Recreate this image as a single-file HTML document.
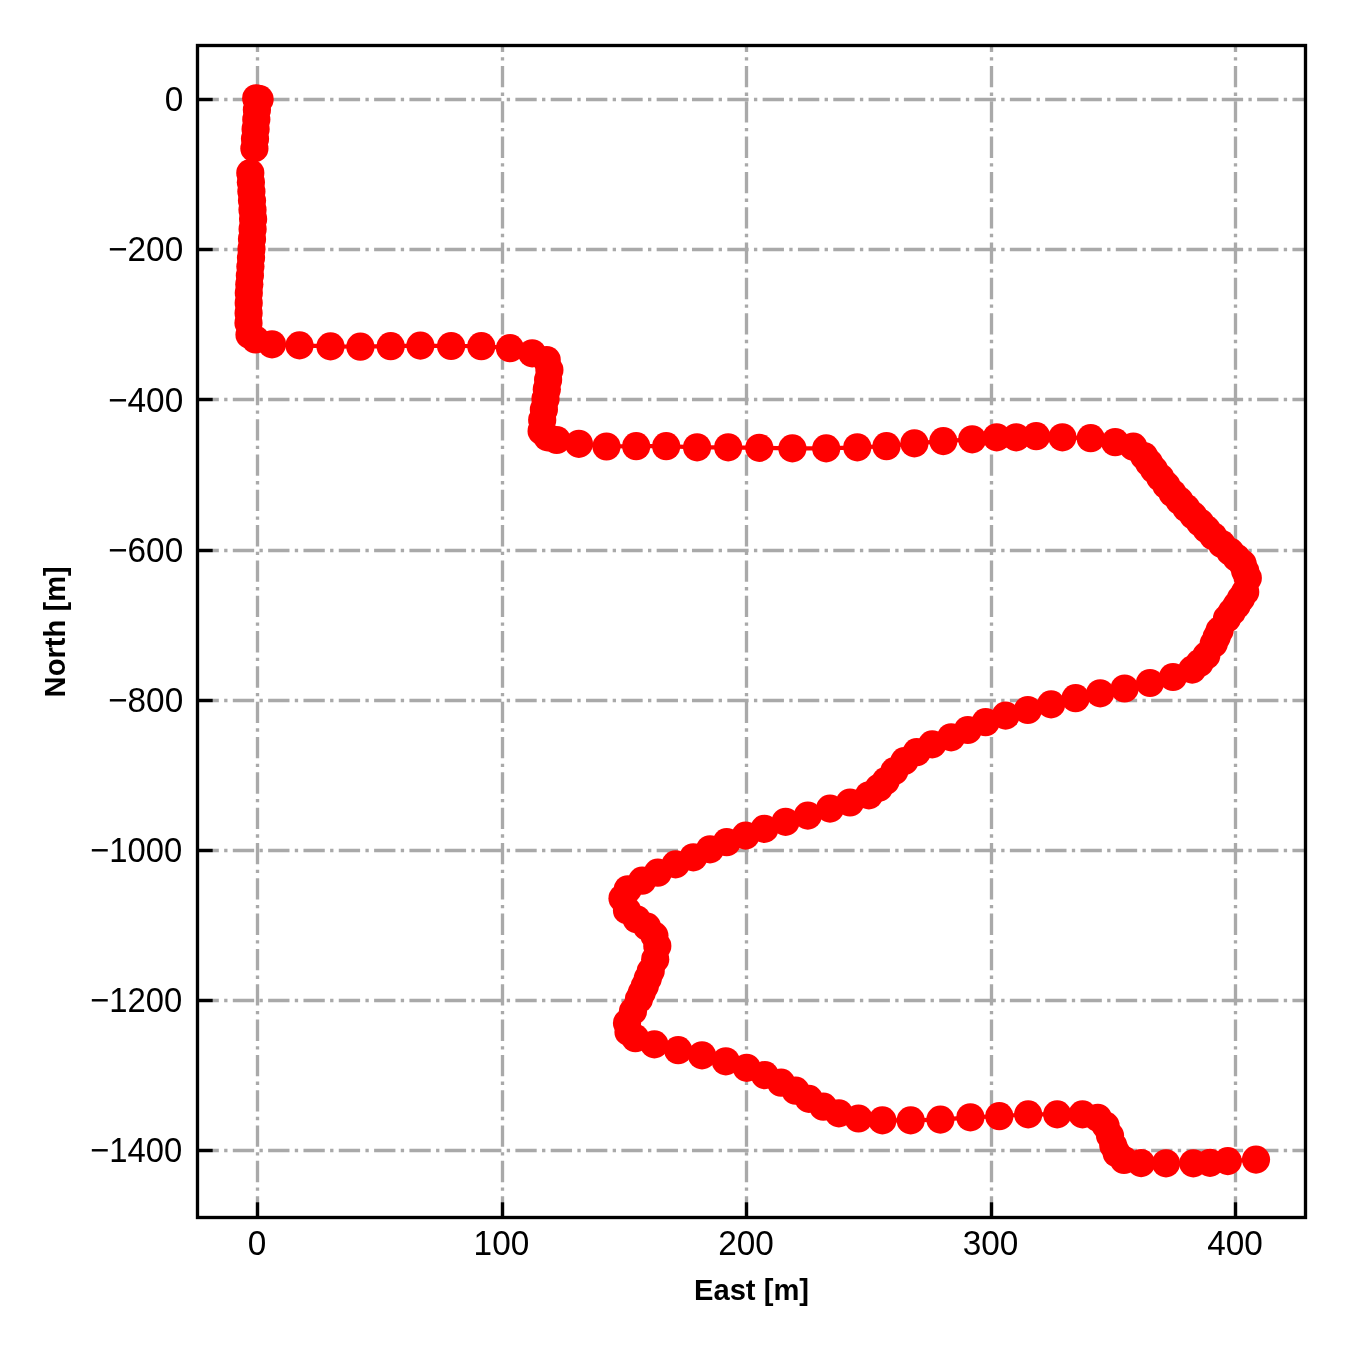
<!DOCTYPE html>
<html lang="en"><head><meta charset="utf-8"><title>Trajectory</title>
<style>
html,body{margin:0;padding:0;background:#fff}
body{width:1350px;height:1350px;overflow:hidden}
svg{display:block}
.tk{font-family:"Liberation Sans",sans-serif;font-size:33.33px;fill:#000}
.lb{font-family:"Liberation Sans",sans-serif;font-size:29.17px;font-weight:bold;fill:#000}
.g{stroke:#a9a9a9;stroke-width:3.33;stroke-dasharray:21.33 5.33 3.33 5.33;fill:none}
.t{stroke:#000;stroke-width:3.33}
</style></head>
<body>
<svg width="1350" height="1350" viewBox="0 0 1350 1350">
<rect width="1350" height="1350" fill="#fff"/>
<g class="g">
<path d="M257.50 1217.5V45.5"/>
<path d="M502.50 1217.5V45.5"/>
<path d="M746.50 1217.5V45.5"/>
<path d="M991.50 1217.5V45.5"/>
<path d="M1235.50 1217.5V45.5"/>
<path d="M197.5 99.50H1305.5"/>
<path d="M197.5 249.50H1305.5"/>
<path d="M197.5 399.50H1305.5"/>
<path d="M197.5 550.50H1305.5"/>
<path d="M197.5 700.50H1305.5"/>
<path d="M197.5 850.50H1305.5"/>
<path d="M197.5 1000.50H1305.5"/>
<path d="M197.5 1150.50H1305.5"/>
</g>
<polyline fill="none" stroke="#ff0000" stroke-width="4.17" stroke-linejoin="round" points="256.2,98.3 259.6,99.2 257.5,100.0 256.9,109.7 256.3,119.4 255.6,129.0 255.0,138.7 254.4,148.4 250.3,173.0 250.9,182.2 251.4,191.4 252.0,200.6 252.5,209.8 253.1,219.0 252.6,229.0 252.0,239.0 251.5,249.0 251.0,257.8 250.4,266.6 249.9,275.4 249.3,284.2 248.8,293.0 248.7,303.0 248.6,313.0 248.5,323.0 249.5,334.8 255.5,339.5 272.0,344.3 299.5,345.4 330.5,346.4 360.4,346.7 390.7,346.2 420.4,345.6 451.1,346.0 481.3,346.2 510.0,348.2 532.2,353.3 546.7,360.0 549.4,370.0 548.1,379.7 546.8,389.3 545.5,399.0 543.9,409.5 542.2,420.0 541.6,431.0 547.5,437.3 556.7,440.0 578.9,443.8 606.5,446.5 636.2,446.2 666.2,446.2 697.1,447.3 728.2,447.3 759.3,447.8 792.4,448.4 826.2,448.4 857.3,447.3 886.5,446.2 914.4,443.3 943.3,441.1 972.2,439.3 996.7,437.3 1016.2,437.3 1036.2,436.2 1062.4,437.3 1090.7,438.2 1115.2,442.2 1133.3,446.7 1144.0,456.0 1149.0,462.8 1154.0,469.6 1160.2,477.5 1166.4,485.4 1172.6,493.3 1179.5,500.7 1186.4,508.2 1193.3,515.6 1200.0,522.5 1206.6,529.4 1213.3,536.3 1221.8,544.1 1230.4,551.9 1236.5,557.8 1242.6,563.7 1245.2,570.9 1247.8,578.0 1245.2,591.9 1241.0,598.5 1236.7,605.2 1231.8,611.9 1227.0,618.5 1219.6,630.4 1216.7,637.0 1213.7,643.7 1206.3,655.6 1199.6,663.0 1192.2,669.6 1173.0,677.0 1150.0,683.0 1124.6,688.5 1100.2,693.3 1075.6,698.2 1051.1,704.4 1027.8,710.0 1005.6,715.6 985.6,722.2 967.8,730.0 951.1,737.3 932.2,744.4 916.7,752.2 904.4,761.1 894.4,771.1 885.6,781.1 878.9,787.8 868.9,795.3 850.0,802.5 830.0,808.6 807.8,815.6 785.6,821.8 764.4,828.9 745.6,835.6 726.7,842.2 710.0,849.3 693.3,857.3 675.6,864.4 657.8,872.7 642.2,880.7 627.8,889.3 622.5,898.3 627.0,910.4 636.7,919.3 647.0,926.7 654.4,935.6 657.3,945.9 655.2,959.3 650.7,971.1 647.8,978.5 644.8,985.9 641.8,992.6 638.9,999.3 633.0,1011.1 627.0,1023.0 628.5,1031.9 635.4,1038.2 654.4,1044.4 678.2,1050.2 702.0,1055.3 725.8,1061.3 746.7,1067.8 764.9,1075.1 781.1,1082.7 795.6,1090.7 808.9,1098.9 823.3,1106.7 838.9,1113.3 858.5,1118.5 882.4,1120.4 910.7,1120.4 940.4,1119.6 970.4,1117.3 999.3,1116.2 1028.2,1114.4 1057.2,1114.4 1082.5,1114.4 1097.8,1117.8 1105.6,1125.6 1110.0,1135.6 1113.3,1145.6 1116.7,1153.3 1124.0,1160.0 1141.1,1163.1 1166.0,1163.3 1193.3,1163.3 1210.0,1162.9 1227.8,1161.1 1256.0,1159.6"/>
<g fill="#ff0000">
<circle cx="256.2" cy="98.3" r="14.1"/><circle cx="259.6" cy="99.2" r="14.1"/><circle cx="257.5" cy="100.0" r="14.1"/><circle cx="256.9" cy="109.7" r="14.1"/><circle cx="256.3" cy="119.4" r="14.1"/><circle cx="255.6" cy="129.0" r="14.1"/><circle cx="255.0" cy="138.7" r="14.1"/><circle cx="254.4" cy="148.4" r="14.1"/><circle cx="250.3" cy="173.0" r="14.1"/><circle cx="250.9" cy="182.2" r="14.1"/><circle cx="251.4" cy="191.4" r="14.1"/><circle cx="252.0" cy="200.6" r="14.1"/><circle cx="252.5" cy="209.8" r="14.1"/><circle cx="253.1" cy="219.0" r="14.1"/><circle cx="252.6" cy="229.0" r="14.1"/><circle cx="252.0" cy="239.0" r="14.1"/><circle cx="251.5" cy="249.0" r="14.1"/><circle cx="251.0" cy="257.8" r="14.1"/><circle cx="250.4" cy="266.6" r="14.1"/><circle cx="249.9" cy="275.4" r="14.1"/><circle cx="249.3" cy="284.2" r="14.1"/><circle cx="248.8" cy="293.0" r="14.1"/><circle cx="248.7" cy="303.0" r="14.1"/><circle cx="248.6" cy="313.0" r="14.1"/><circle cx="248.5" cy="323.0" r="14.1"/><circle cx="249.5" cy="334.8" r="14.1"/><circle cx="255.5" cy="339.5" r="14.1"/><circle cx="272.0" cy="344.3" r="14.1"/><circle cx="299.5" cy="345.4" r="14.1"/><circle cx="330.5" cy="346.4" r="14.1"/><circle cx="360.4" cy="346.7" r="14.1"/><circle cx="390.7" cy="346.2" r="14.1"/><circle cx="420.4" cy="345.6" r="14.1"/><circle cx="451.1" cy="346.0" r="14.1"/><circle cx="481.3" cy="346.2" r="14.1"/><circle cx="510.0" cy="348.2" r="14.1"/><circle cx="532.2" cy="353.3" r="14.1"/><circle cx="546.7" cy="360.0" r="14.1"/><circle cx="549.4" cy="370.0" r="14.1"/><circle cx="548.1" cy="379.7" r="14.1"/><circle cx="546.8" cy="389.3" r="14.1"/><circle cx="545.5" cy="399.0" r="14.1"/><circle cx="543.9" cy="409.5" r="14.1"/><circle cx="542.2" cy="420.0" r="14.1"/><circle cx="541.6" cy="431.0" r="14.1"/><circle cx="547.5" cy="437.3" r="14.1"/><circle cx="556.7" cy="440.0" r="14.1"/><circle cx="578.9" cy="443.8" r="14.1"/><circle cx="606.5" cy="446.5" r="14.1"/><circle cx="636.2" cy="446.2" r="14.1"/><circle cx="666.2" cy="446.2" r="14.1"/><circle cx="697.1" cy="447.3" r="14.1"/><circle cx="728.2" cy="447.3" r="14.1"/><circle cx="759.3" cy="447.8" r="14.1"/><circle cx="792.4" cy="448.4" r="14.1"/><circle cx="826.2" cy="448.4" r="14.1"/><circle cx="857.3" cy="447.3" r="14.1"/><circle cx="886.5" cy="446.2" r="14.1"/><circle cx="914.4" cy="443.3" r="14.1"/><circle cx="943.3" cy="441.1" r="14.1"/><circle cx="972.2" cy="439.3" r="14.1"/><circle cx="996.7" cy="437.3" r="14.1"/><circle cx="1016.2" cy="437.3" r="14.1"/><circle cx="1036.2" cy="436.2" r="14.1"/><circle cx="1062.4" cy="437.3" r="14.1"/><circle cx="1090.7" cy="438.2" r="14.1"/><circle cx="1115.2" cy="442.2" r="14.1"/><circle cx="1133.3" cy="446.7" r="14.1"/><circle cx="1144.0" cy="456.0" r="14.1"/><circle cx="1149.0" cy="462.8" r="14.1"/><circle cx="1154.0" cy="469.6" r="14.1"/><circle cx="1160.2" cy="477.5" r="14.1"/><circle cx="1166.4" cy="485.4" r="14.1"/><circle cx="1172.6" cy="493.3" r="14.1"/><circle cx="1179.5" cy="500.7" r="14.1"/><circle cx="1186.4" cy="508.2" r="14.1"/><circle cx="1193.3" cy="515.6" r="14.1"/><circle cx="1200.0" cy="522.5" r="14.1"/><circle cx="1206.6" cy="529.4" r="14.1"/><circle cx="1213.3" cy="536.3" r="14.1"/><circle cx="1221.8" cy="544.1" r="14.1"/><circle cx="1230.4" cy="551.9" r="14.1"/><circle cx="1236.5" cy="557.8" r="14.1"/><circle cx="1242.6" cy="563.7" r="14.1"/><circle cx="1245.2" cy="570.9" r="14.1"/><circle cx="1247.8" cy="578.0" r="14.1"/><circle cx="1245.2" cy="591.9" r="14.1"/><circle cx="1241.0" cy="598.5" r="14.1"/><circle cx="1236.7" cy="605.2" r="14.1"/><circle cx="1231.8" cy="611.9" r="14.1"/><circle cx="1227.0" cy="618.5" r="14.1"/><circle cx="1219.6" cy="630.4" r="14.1"/><circle cx="1216.7" cy="637.0" r="14.1"/><circle cx="1213.7" cy="643.7" r="14.1"/><circle cx="1206.3" cy="655.6" r="14.1"/><circle cx="1199.6" cy="663.0" r="14.1"/><circle cx="1192.2" cy="669.6" r="14.1"/><circle cx="1173.0" cy="677.0" r="14.1"/><circle cx="1150.0" cy="683.0" r="14.1"/><circle cx="1124.6" cy="688.5" r="14.1"/><circle cx="1100.2" cy="693.3" r="14.1"/><circle cx="1075.6" cy="698.2" r="14.1"/><circle cx="1051.1" cy="704.4" r="14.1"/><circle cx="1027.8" cy="710.0" r="14.1"/><circle cx="1005.6" cy="715.6" r="14.1"/><circle cx="985.6" cy="722.2" r="14.1"/><circle cx="967.8" cy="730.0" r="14.1"/><circle cx="951.1" cy="737.3" r="14.1"/><circle cx="932.2" cy="744.4" r="14.1"/><circle cx="916.7" cy="752.2" r="14.1"/><circle cx="904.4" cy="761.1" r="14.1"/><circle cx="894.4" cy="771.1" r="14.1"/><circle cx="885.6" cy="781.1" r="14.1"/><circle cx="878.9" cy="787.8" r="14.1"/><circle cx="868.9" cy="795.3" r="14.1"/><circle cx="850.0" cy="802.5" r="14.1"/><circle cx="830.0" cy="808.6" r="14.1"/><circle cx="807.8" cy="815.6" r="14.1"/><circle cx="785.6" cy="821.8" r="14.1"/><circle cx="764.4" cy="828.9" r="14.1"/><circle cx="745.6" cy="835.6" r="14.1"/><circle cx="726.7" cy="842.2" r="14.1"/><circle cx="710.0" cy="849.3" r="14.1"/><circle cx="693.3" cy="857.3" r="14.1"/><circle cx="675.6" cy="864.4" r="14.1"/><circle cx="657.8" cy="872.7" r="14.1"/><circle cx="642.2" cy="880.7" r="14.1"/><circle cx="627.8" cy="889.3" r="14.1"/><circle cx="622.5" cy="898.3" r="14.1"/><circle cx="627.0" cy="910.4" r="14.1"/><circle cx="636.7" cy="919.3" r="14.1"/><circle cx="647.0" cy="926.7" r="14.1"/><circle cx="654.4" cy="935.6" r="14.1"/><circle cx="657.3" cy="945.9" r="14.1"/><circle cx="655.2" cy="959.3" r="14.1"/><circle cx="650.7" cy="971.1" r="14.1"/><circle cx="647.8" cy="978.5" r="14.1"/><circle cx="644.8" cy="985.9" r="14.1"/><circle cx="641.8" cy="992.6" r="14.1"/><circle cx="638.9" cy="999.3" r="14.1"/><circle cx="633.0" cy="1011.1" r="14.1"/><circle cx="627.0" cy="1023.0" r="14.1"/><circle cx="628.5" cy="1031.9" r="14.1"/><circle cx="635.4" cy="1038.2" r="14.1"/><circle cx="654.4" cy="1044.4" r="14.1"/><circle cx="678.2" cy="1050.2" r="14.1"/><circle cx="702.0" cy="1055.3" r="14.1"/><circle cx="725.8" cy="1061.3" r="14.1"/><circle cx="746.7" cy="1067.8" r="14.1"/><circle cx="764.9" cy="1075.1" r="14.1"/><circle cx="781.1" cy="1082.7" r="14.1"/><circle cx="795.6" cy="1090.7" r="14.1"/><circle cx="808.9" cy="1098.9" r="14.1"/><circle cx="823.3" cy="1106.7" r="14.1"/><circle cx="838.9" cy="1113.3" r="14.1"/><circle cx="858.5" cy="1118.5" r="14.1"/><circle cx="882.4" cy="1120.4" r="14.1"/><circle cx="910.7" cy="1120.4" r="14.1"/><circle cx="940.4" cy="1119.6" r="14.1"/><circle cx="970.4" cy="1117.3" r="14.1"/><circle cx="999.3" cy="1116.2" r="14.1"/><circle cx="1028.2" cy="1114.4" r="14.1"/><circle cx="1057.2" cy="1114.4" r="14.1"/><circle cx="1082.5" cy="1114.4" r="14.1"/><circle cx="1097.8" cy="1117.8" r="14.1"/><circle cx="1105.6" cy="1125.6" r="14.1"/><circle cx="1110.0" cy="1135.6" r="14.1"/><circle cx="1113.3" cy="1145.6" r="14.1"/><circle cx="1116.7" cy="1153.3" r="14.1"/><circle cx="1124.0" cy="1160.0" r="14.1"/><circle cx="1141.1" cy="1163.1" r="14.1"/><circle cx="1166.0" cy="1163.3" r="14.1"/><circle cx="1193.3" cy="1163.3" r="14.1"/><circle cx="1210.0" cy="1162.9" r="14.1"/><circle cx="1227.8" cy="1161.1" r="14.1"/><circle cx="1256.0" cy="1159.6" r="14.1"/>
</g>
<g class="t">
<path d="M257.50 1217.5v-15.2"/>
<path d="M502.50 1217.5v-15.2"/>
<path d="M746.50 1217.5v-15.2"/>
<path d="M991.50 1217.5v-15.2"/>
<path d="M1235.50 1217.5v-15.2"/>
<path d="M197.5 99.50h15.2"/>
<path d="M197.5 249.50h15.2"/>
<path d="M197.5 399.50h15.2"/>
<path d="M197.5 550.50h15.2"/>
<path d="M197.5 700.50h15.2"/>
<path d="M197.5 850.50h15.2"/>
<path d="M197.5 1000.50h15.2"/>
<path d="M197.5 1150.50h15.2"/>
</g>
<rect x="197.5" y="45.5" width="1108.00" height="1172.00" fill="none" stroke="#000" stroke-width="3.33"/>
<text class="tk" transform="translate(256.9 1255.4) scale(1 1.04)" text-anchor="middle">0</text>
<text class="tk" transform="translate(501.4 1255.4) scale(1 1.04)" text-anchor="middle">100</text>
<text class="tk" transform="translate(746.0 1255.4) scale(1 1.04)" text-anchor="middle">200</text>
<text class="tk" transform="translate(990.6 1255.4) scale(1 1.04)" text-anchor="middle">300</text>
<text class="tk" transform="translate(1235.1 1255.4) scale(1 1.04)" text-anchor="middle">400</text>
<text class="tk" transform="translate(183.2 111.2) scale(1 1.04)" text-anchor="end">0</text>
<text class="tk" transform="translate(183.2 261.3) scale(1 1.04)" text-anchor="end">−200</text>
<text class="tk" transform="translate(183.2 411.5) scale(1 1.04)" text-anchor="end">−400</text>
<text class="tk" transform="translate(183.2 561.6) scale(1 1.04)" text-anchor="end">−600</text>
<text class="tk" transform="translate(183.2 711.8) scale(1 1.04)" text-anchor="end">−800</text>
<text class="tk" transform="translate(182.3 861.9) scale(0.985 1.04)" text-anchor="end">−1000</text>
<text class="tk" transform="translate(182.3 1012.0) scale(0.985 1.04)" text-anchor="end">−1200</text>
<text class="tk" transform="translate(182.3 1162.2) scale(0.985 1.04)" text-anchor="end">−1400</text>
<text class="lb" x="751.5" y="1300.2" text-anchor="middle">East [m]</text>
<text class="lb" transform="translate(64.9 631.8) rotate(-90)" text-anchor="middle">North [m]</text>
</svg>
</body></html>
